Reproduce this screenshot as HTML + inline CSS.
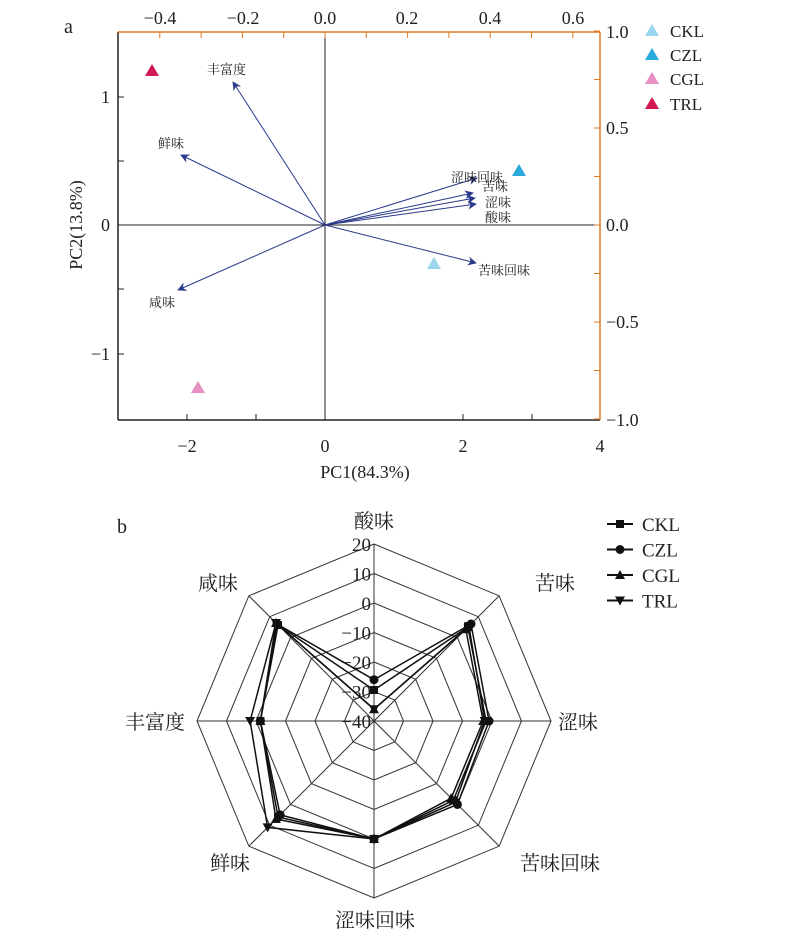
<!DOCTYPE html>
<html><head><meta charset="utf-8"><style>
body{margin:0;background:#fff}
svg{display:block}
text{font-family:"Liberation Serif","Noto Serif CJK SC",serif;fill:#222}
.cj{font-family:"Liberation Serif","Noto Serif CJK SC",serif}
</style></head><body>
<svg id="s" width="800" height="948" viewBox="0 0 800 948" xmlns="http://www.w3.org/2000/svg">
<defs><marker id="ar" viewBox="0 0 10 10" refX="9" refY="5" markerWidth="14" markerHeight="9" markerUnits="userSpaceOnUse" orient="auto"><path d="M0,0L10,5L0,10L3,5z" fill="#2a3a8c"/></marker></defs>
<text x="64" y="33" font-size="20">a</text>
<line x1="118" y1="420" x2="600" y2="420" stroke="#222" stroke-width="1.5"/>
<line x1="118" y1="32" x2="118" y2="420" stroke="#222" stroke-width="1.5"/>
<line x1="118" y1="32" x2="600" y2="32" stroke="#e07a20" stroke-width="1.5"/>
<line x1="600" y1="32" x2="600" y2="420" stroke="#e07a20" stroke-width="1.5"/>
<line x1="325" y1="32" x2="325" y2="420" stroke="#222" stroke-width="1"/>
<line x1="118" y1="225" x2="600" y2="225" stroke="#222" stroke-width="1"/>
<g id="ticks"></g>
<g font-size="18" text-anchor="middle">
<text x="187" y="452">−2</text><text x="325" y="452">0</text><text x="463" y="452">2</text><text x="600" y="452">4</text>
<text x="160" y="24">−0.4</text><text x="243" y="24">−0.2</text><text x="325" y="24">0.0</text><text x="407" y="24">0.2</text><text x="490" y="24">0.4</text><text x="573" y="24">0.6</text>
</g>
<g font-size="18" text-anchor="end"><text x="110" y="103">1</text><text x="110" y="231">0</text><text x="110" y="360">−1</text></g>
<g font-size="18"><text x="606" y="38">1.0</text><text x="606" y="134">0.5</text><text x="606" y="231">0.0</text><text x="606" y="328">−0.5</text><text x="606" y="426">−1.0</text></g>
<text x="365" y="478" font-size="18" text-anchor="middle">PC1(84.3%)</text>
<text transform="translate(82,225) rotate(-90)" font-size="18" text-anchor="middle">PC2(13.8%)</text>
<g stroke="#2a3a8c" stroke-width="1" marker-end="url(#ar)">
<line x1="325" y1="225" x2="233" y2="82"/><line x1="325" y1="225" x2="181" y2="155"/><line x1="325" y1="225" x2="178" y2="290"/>
<line x1="325" y1="225" x2="477" y2="178"/><line x1="325" y1="225" x2="473" y2="193"/><line x1="325" y1="225" x2="475" y2="198"/><line x1="325" y1="225" x2="476" y2="204"/><line x1="325" y1="225" x2="476" y2="263"/>
</g>
<g font-size="13" class="cj">
<text x="207" y="74">丰富度</text><text x="158" y="148">鲜味</text><text x="149" y="307">咸味</text>
<text x="451" y="182">涩味回味</text><text x="482" y="191">苦味</text><text x="485" y="207">涩味</text><text x="485" y="222">酸味</text><text x="478" y="275">苦味回味</text>
</g>
<g>
<polygon points="152,64 145,76 159,76" fill="#d21a52"/>
<polygon points="198,381 191,393 205,393" fill="#e88fc4"/>
<polygon points="434,257 427,269 441,269" fill="#9ad6ee"/>
<polygon points="519,164 512,176 526,176" fill="#2aa9dc"/>
<polygon points="652,24 645,36 659,36" fill="#9ad6ee"/>
<polygon points="652,48 645,60 659,60" fill="#2aa9dc"/>
<polygon points="652,72 645,84 659,84" fill="#e88fc4"/>
<polygon points="652,97 645,109 659,109" fill="#d21a52"/>
</g>
<g font-size="17"><text x="670" y="37">CKL</text><text x="670" y="61">CZL</text><text x="670" y="85">CGL</text><text x="670" y="110">TRL</text></g>
<text x="117" y="533" font-size="20">b</text>
<g id="radar"></g>
</svg>
<script>
var NS="http://www.w3.org/2000/svg";
function el(p,t,a,txt){var e=document.createElementNS(NS,t);for(var k in a)e.setAttribute(k,a[k]);if(txt!=null)e.textContent=txt;p.appendChild(e);return e;}
var tk=document.getElementById("ticks");
[187,256,463,532].forEach(function(x){el(tk,"line",{x1:x,y1:420,x2:x,y2:414,stroke:"#222"});});
[97,161,289,354].forEach(function(y){el(tk,"line",{x1:118,y1:y,x2:124,y2:y,stroke:"#222"});});
for(var i=-4;i<=6;i++){var x=325+i*41.3;if(x>118&&x<600)el(tk,"line",{x1:x,y1:32,x2:x,y2:38,stroke:"#e07a20"});}
for(var i=-4;i<=4;i++){var y=225-i*48.5;el(tk,"line",{x1:600,y1:y,x2:594,y2:y,stroke:"#e07a20"});}
var g=document.getElementById("radar"),cx=374,cy=721;
function pt(k,r){var a=-Math.PI/2+k*Math.PI/4;return [cx+r*Math.cos(a),cy+r*Math.sin(a)];}
for(var j=1;j<=6;j++){var r=j*29.5,p=[];for(var k=0;k<8;k++)p.push(pt(k,r).join(","));el(g,"polygon",{points:p.join(" "),fill:"none",stroke:"#333","stroke-width":1});}
for(var k=0;k<8;k++){var q=pt(k,177);el(g,"line",{x1:cx,y1:cy,x2:q[0],y2:q[1],stroke:"#333"});}
var vals=[20,10,0,-10,-20,-30,-40];
vals.forEach(function(v,i){el(g,"text",{x:371,y:cy-(v+40)*2.95+7,"font-size":19,"text-anchor":"end"},v<0?"−"+(-v):v);});
var labs=[["酸味",374,528],["苦味",555,590],["涩味",578,729],["苦味回味",560,870],["涩味回味",375,927],["鲜味",230,870],["丰富度",155,729],["咸味",218,590]];
labs.forEach(function(l){el(g,"text",{x:l[1],y:l[2],"font-size":20,"text-anchor":"middle"},l[0]);});
var data={
CKL:[-29.5,5,-2,-2,0,6,-1.5,6],
CZL:[-26,6.5,-1,0,0,5,-1.5,6.5],
CGL:[-36,4,-3,-3,0,7,-1.5,7],
TRL:[-36,5.5,-2.5,-1,0,11,2,7]};
function mk(p,x,y,n){if(n=="CKL")el(p,"rect",{x:x-4,y:y-4,width:8,height:8,fill:"#111"});
else if(n=="CZL")el(p,"circle",{cx:x,cy:y,r:4.5,fill:"#111"});
else if(n=="CGL")el(p,"polygon",{points:(x)+","+(y-5)+" "+(x-5)+","+(y+4)+" "+(x+5)+","+(y+4),fill:"#111"});
else el(p,"polygon",{points:(x)+","+(y+5)+" "+(x-5)+","+(y-4)+" "+(x+5)+","+(y-4),fill:"#111"});}
Object.keys(data).forEach(function(n){var p=[];data[n].forEach(function(v,k){p.push(pt(k,(v+40)*2.95));});
el(g,"polygon",{points:p.map(function(a){return a.join(",")}).join(" "),fill:"none",stroke:"#111","stroke-width":1.5});
p.forEach(function(a){mk(g,a[0],a[1],n);});});
["CKL","CZL","CGL","TRL"].forEach(function(n,i){var y=524+i*25.5;el(g,"line",{x1:607,y1:y,x2:633,y2:y,stroke:"#111","stroke-width":2});mk(g,620,y,n);el(g,"text",{x:642,y:y+7,"font-size":19},n);});
</script>
</body></html>
